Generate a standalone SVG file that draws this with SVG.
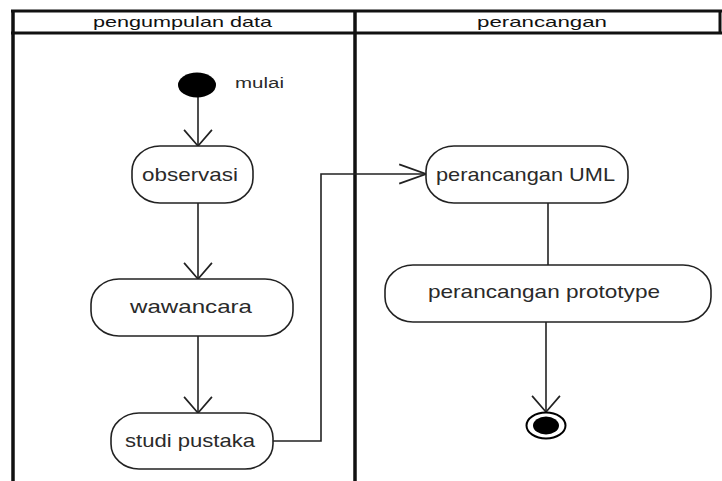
<svg xmlns="http://www.w3.org/2000/svg" width="722" height="481" viewBox="0 0 722 481">
  <style>
    .lane { stroke: #111; stroke-width: 3.5; fill: none; }
    .head { stroke: #111; stroke-width: 3; fill: none; }
    .act { fill: #fff; stroke: #222; stroke-width: 1.6; }
    .flow { fill: none; stroke: #222; stroke-width: 1.6; }
    .lbl { font-family: "Liberation Sans", Arial, sans-serif; font-size: 19px; fill: #2a2a2a; text-anchor: start; }
    .htxt { font-family: "Liberation Sans", Arial, sans-serif; font-size: 15px; fill: #111; text-anchor: start; }
  </style>
  <defs>
    <marker id="arrowV" markerUnits="userSpaceOnUse" markerWidth="30" markerHeight="30" viewBox="-16 -14 18 28" refX="0" refY="0" orient="auto">
      <path d="M-15,-13 L0,0 L-15,13" fill="none" stroke="#222" stroke-width="1.6"/>
    </marker>
    <marker id="arrowH" markerUnits="userSpaceOnUse" markerWidth="30" markerHeight="30" viewBox="-26 -10 28 20" refX="0" refY="0" orient="auto">
      <path d="M-25,-9 L0,0 L-25,9" fill="none" stroke="#222" stroke-width="1.6"/>
    </marker>
  </defs>

  <rect width="722" height="481" fill="#fff"/>

  <!-- swimlane frame -->
  <g id="swimlanes">
    <line class="head" x1="11" y1="11" x2="722" y2="11"/>
    <line class="head" x1="11" y1="33" x2="722" y2="33"/>
    <line class="lane" x1="13" y1="10" x2="13" y2="481"/>
    <line class="lane" x1="355" y1="10" x2="355" y2="481"/>
    <line class="head" x1="720" y1="10" x2="720" y2="34"/>
    <text class="htxt" x="93" y="27" textLength="179" lengthAdjust="spacingAndGlyphs">pengumpulan data</text>
    <text class="htxt" x="477" y="27" textLength="130" lengthAdjust="spacingAndGlyphs">perancangan</text>
  </g>

  <!-- connectors -->
  <g id="connectors">
    <line class="flow" x1="198" y1="97" x2="198" y2="146" marker-end="url(#arrowV)"/>
    <line class="flow" x1="198" y1="203" x2="198" y2="279" marker-end="url(#arrowV)"/>
    <line class="flow" x1="198" y1="336" x2="198" y2="413" marker-end="url(#arrowV)"/>
    <polyline class="flow" points="273,441 321,441 321,174 426,174" marker-end="url(#arrowH)"/>
    <line class="flow" x1="548" y1="203" x2="548" y2="265"/>
    <line class="flow" x1="546" y1="322" x2="546" y2="412" marker-end="url(#arrowV)"/>
  </g>

  <g id="start">
    <ellipse cx="197" cy="85" rx="19" ry="12.5" fill="#000"/>
    <text class="lbl" x="235" y="88" style="font-size:14px" textLength="49" lengthAdjust="spacingAndGlyphs">mulai</text>
  </g>

  <g id="observasi">
    <rect class="act" x="132" y="146" width="121" height="57" rx="28" ry="25"/>
    <text class="lbl" x="142" y="181" textLength="96" lengthAdjust="spacingAndGlyphs">observasi</text>
  </g>

  <g id="wawancara">
    <rect class="act" x="91" y="279" width="202" height="57" rx="28" ry="25"/>
    <text class="lbl" x="130" y="313" textLength="122" lengthAdjust="spacingAndGlyphs">wawancara</text>
  </g>

  <g id="studi-pustaka">
    <rect class="act" x="111" y="413" width="162" height="56" rx="28" ry="25"/>
    <text class="lbl" x="125" y="447" textLength="130" lengthAdjust="spacingAndGlyphs">studi pustaka</text>
  </g>

  <g id="perancangan-uml">
    <rect class="act" x="426" y="146" width="202" height="57" rx="28" ry="25"/>
    <text class="lbl" x="436" y="181" textLength="179" lengthAdjust="spacingAndGlyphs">perancangan UML</text>
  </g>

  <g id="perancangan-prototype">
    <rect class="act" x="385" y="265" width="326" height="57" rx="28" ry="25"/>
    <text class="lbl" x="428" y="298" textLength="232" lengthAdjust="spacingAndGlyphs">perancangan prototype</text>
  </g>

  <g id="end">
    <ellipse cx="546" cy="425.5" rx="19.5" ry="13" fill="#fff" stroke="#000" stroke-width="2"/>
    <ellipse cx="546" cy="425.5" rx="13" ry="9" fill="#000"/>
  </g>
</svg>
